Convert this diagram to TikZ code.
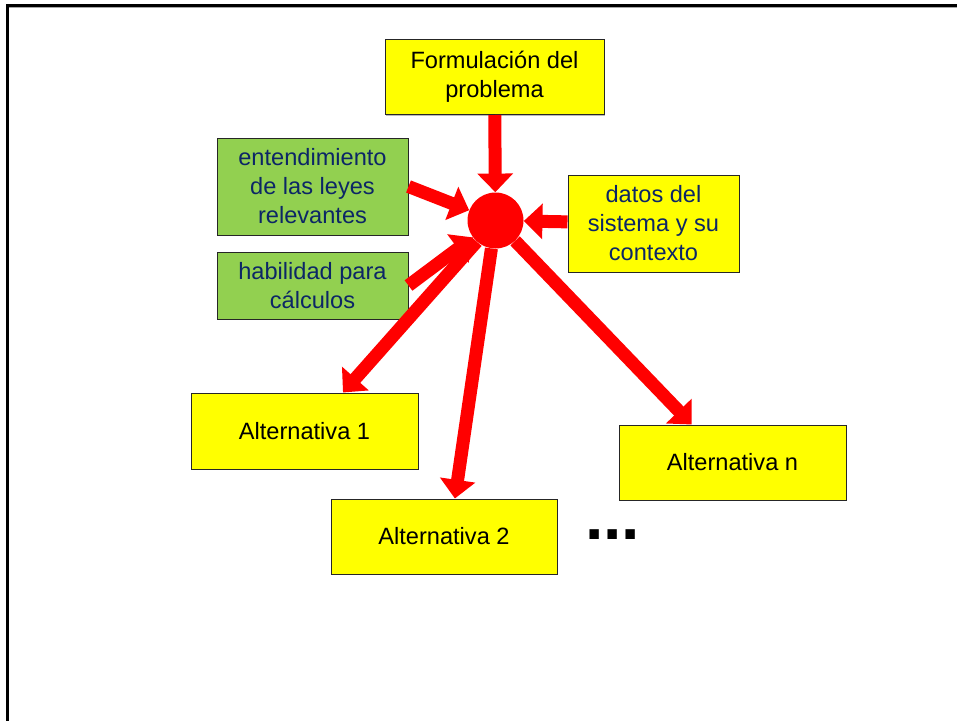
\documentclass[tikz,border=0pt]{standalone}
\usepackage{fontspec}
\setmainfont{Liberation Sans}
\usetikzlibrary{arrows.meta,shadows}
\definecolor{ppyellow}{RGB}{255,255,0}
\definecolor{ppgreen}{RGB}{146,208,80}
\definecolor{ppnavy}{RGB}{12,38,102}
\definecolor{ppred}{RGB}{255,0,0}
\begin{document}
\begin{tikzpicture}[x=0.75pt,y=-0.75pt,
  box/.style={draw=black!85, line width=0.75pt, align=center, inner sep=0pt,
    font=\fontsize{17.7}{21.75}\selectfont,
    drop shadow={shadow xshift=1pt, shadow yshift=-1pt, fill=black!45, opacity=0.6}},
  ybox/.style={box, fill=ppyellow},
  gbox/.style={box, fill=ppgreen, text=ppnavy},
  hub/.style={circle, fill=ppred, inner sep=0pt, minimum size=42pt},
  arr/.style={draw=ppred, line width=9.75pt, -{Triangle[length=14pt,width=26pt]}},
  frame/.style={line width=2.25pt, black},
]
\useasboundingbox (0,0) rectangle (957,721);
% frame
\draw[black!35, line width=0.6pt] (9,7.8) -- (957,7.8);
\draw[frame] (7.5,721) -- (7.5,5.7) -- (957,5.7);

% boxes
\node[ybox, minimum width=164.25pt, minimum height=56.25pt] (form) at (494.5,77) {Formulación del\\problema};
\node[gbox, minimum width=143.25pt, minimum height=72.75pt] (ent) at (312.5,186.5) {entendimiento\\de las leyes\\relevantes};
\node[gbox, minimum width=143.25pt, minimum height=50.25pt] (hab) at (312.5,285.5) {habilidad para\\cálculos};
\node[ybox, text=ppnavy, minimum width=128.25pt, minimum height=72.75pt] (datos) at (653.5,223.5) {datos del\\sistema y su\\contexto};
\node[ybox, minimum width=170.25pt, minimum height=57pt] (alt1) at (304.5,431) {Alternativa 1};
\node[ybox, minimum width=169.5pt, minimum height=56.25pt] (alt2) at (444,536.5) {Alternativa 2};
\node[ybox, minimum width=170.25pt, minimum height=56.25pt] (altn) at (732.5,462.5) {Alternativa n};

% hub
\node[hub] (c) at (495.5,220.5) {};

% arrows
\draw[arr] (form) -- (c);
\draw[arr] (datos) -- (c);
\draw[arr] (ent.east) -- (c);
\draw[arr] (hab.east) -- (c);
\draw[arr] (c) -- (alt1.45);
\draw[arr] (c) -- (alt2.74);
\draw[arr] (c) -- (altn.137);

% dots
\node[anchor=base, inner sep=0pt, font=\fontsize{49.5}{50}\selectfont\bfseries] (dots) at (612.5,539) {...};
\end{tikzpicture}
\end{document}
